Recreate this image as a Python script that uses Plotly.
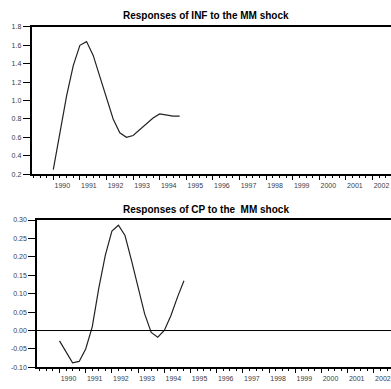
import plotly.graph_objects as go

years = [str(y) for y in range(1990, 2004)]
quarters = list(range(20))  # 1990Q1 .. 1994Q4

inf_resp = [0.25, 0.65, 1.05, 1.38, 1.60, 1.64, 1.49, 1.26, 1.02, 0.80,
            0.65, 0.60, 0.62, 0.68, 0.75, 0.81, 0.855, 0.845, 0.83, 0.83]
cp_resp = [-0.028, -0.06, -0.088, -0.084, -0.05, 0.01, 0.115, 0.205, 0.27, 0.286,
           0.258, 0.19, 0.12, 0.045, -0.005, -0.018, 0.0, 0.04, 0.09, 0.135]

inf_ticks = [0.2, 0.4, 0.6, 0.8, 1.0, 1.2, 1.4, 1.6, 1.8]
cp_ticks = [-0.10, -0.05, 0.00, 0.05, 0.10, 0.15, 0.20, 0.25, 0.30]

W, H = 391, 389
fig = go.Figure()
fig.add_trace(go.Scatter(x=quarters, y=inf_resp, mode="lines",
                         line=dict(color="#222", width=1.2), xaxis="x", yaxis="y",
                         showlegend=False))
fig.add_trace(go.Scatter(x=quarters, y=cp_resp, mode="lines",
                         line=dict(color="#222", width=1.2), xaxis="x2", yaxis="y2",
                         showlegend=False))

tickfont = dict(family="Liberation Sans", size=7, color="#3a3a4a")
year_vals = [4 * i for i in range(len(years))]


def xax(dom_left, rng, anchor):
    return dict(domain=[dom_left / W, 1], range=rng, anchor=anchor,
                tickmode="array", tickvals=year_vals, ticktext=years,
                ticks="outside", ticklen=4, tickwidth=1, tickcolor="black",
                showline=True, linecolor="black", linewidth=1.5, mirror=True,
                showgrid=False, zeroline=False, tickfont=tickfont,
                ticklabelshift=9, ticklabeloverflow="allow",
                minor=dict(tickmode="linear", tick0=0, dtick=1, ticks="outside",
                           ticklen=2, tickcolor="black", showgrid=False))


def yax(top, bottom, rng, tvals, fmt, anchor):
    return dict(domain=[1 - bottom / H, 1 - top / H], range=rng, anchor=anchor,
                tickmode="array", tickvals=tvals,
                ticktext=[fmt.format(v) for v in tvals],
                ticks="outside", ticklen=7, tickwidth=1, tickcolor="black",
                showline=True, linecolor="black", linewidth=1.5, mirror=False,
                showgrid=False, zeroline=False, tickfont=tickfont)


q_top = 6.65
q_bot = 6.55
fig.update_layout(
    width=W, height=H, margin=dict(l=0, r=0, t=0, b=0),
    plot_bgcolor="white", paper_bgcolor="white",
    xaxis=xax(31.5, [-21.8 / q_top, (W - 53.3) / q_top], "y"),
    yaxis=yax(23.3, 173.3, [0.2, 1.8], inf_ticks, "{:.1f}", "x"),
    xaxis2=xax(37, [-22.5 / q_bot, (W - 59.5) / q_bot], "y2"),
    yaxis2=yax(220, 370, [-0.10, 0.30], cp_ticks, "{:.2f}", "x2"),
    shapes=[dict(type="line", xref="x2 domain", yref="y2", x0=0, x1=1, y0=0, y1=0,
                 line=dict(color="black", width=1))],
    annotations=[
        dict(text="<b>Responses of INF to the MM shock</b>", xref="paper", yref="paper",
             x=206 / W, y=1 - 12 / H, showarrow=False, xanchor="center", yanchor="middle",
             font=dict(family="Liberation Sans", size=10, color="black")),
        dict(text="<b>Responses of CP to the \u00a0MM shock</b>", xref="paper", yref="paper",
             x=205.5 / W, y=1 - 209.5 / H, showarrow=False, xanchor="center", yanchor="middle",
             font=dict(family="Liberation Sans", size=10, color="black")),
    ],
)

fig.write_html("out.html")
